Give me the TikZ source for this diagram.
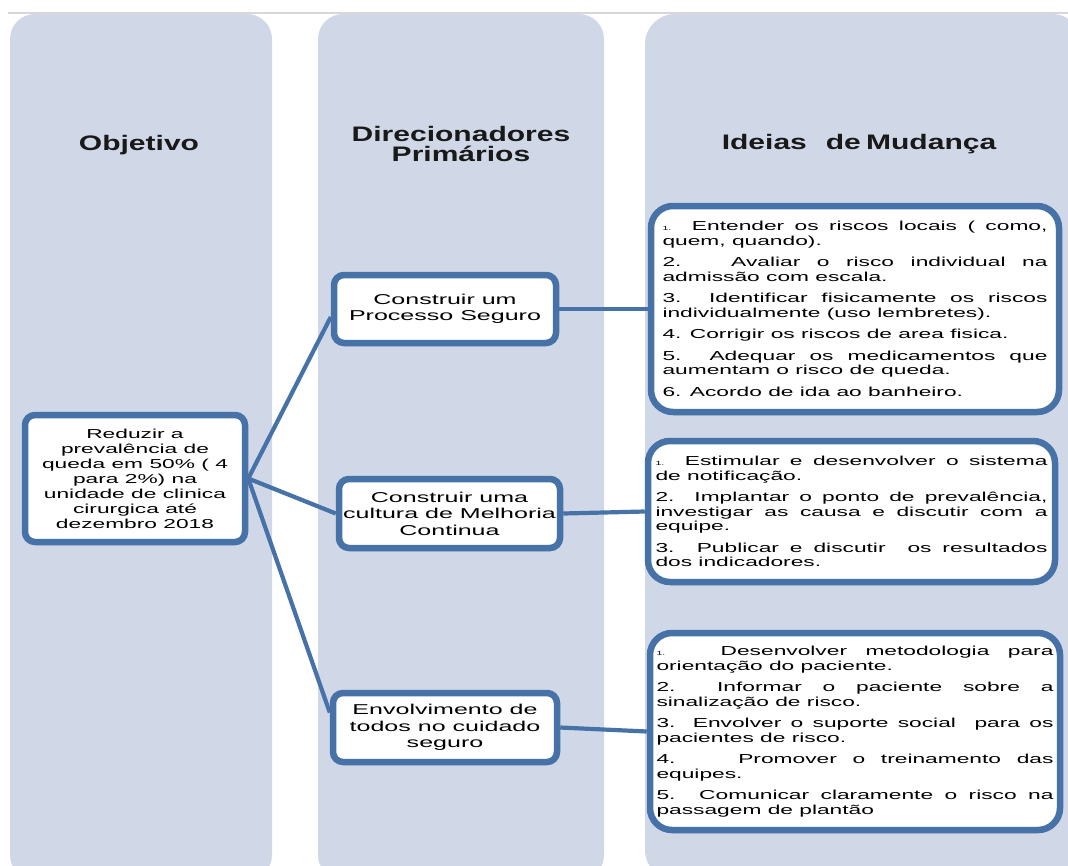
\documentclass[tikz,border=0pt]{standalone}
\usepackage{fontspec}
\usetikzlibrary{shadows,calc}
\newfontfamily\bodyfont{Liberation Sans}[FakeStretch=1.75]
\newfontfamily\headfont{Liberation Sans}[FakeStretch=1.43]
\definecolor{colfill}{RGB}{208,216,232}
\definecolor{boxblue}{RGB}{71,114,168}
\definecolor{topline}{RGB}{215,215,215}
\newcommand\pgap{\par\vspace{7pt}}
\newcommand\smnum[1]{{\fontsize{6}{6}\selectfont #1}}
\begin{document}
\begin{tikzpicture}[x=1pt,y=-1pt,
  col/.style={fill=colfill, rounded corners=25pt},
  box/.style={draw=boxblue, line width=6.5pt, fill=white, rounded corners=10pt, inner sep=0pt, text=black,
    drop shadow={shadow xshift=1pt, shadow yshift=-3pt, opacity=0.3, fill=black!60}},
  ideabox/.style={box, rounded corners=22pt, align=justify, font=\bodyfont\fontsize{13}{14.5}\selectfont},
  drvbox/.style={box, align=center, font=\bodyfont\fontsize{14.3}{16.5}\selectfont},
  goalbox/.style={box, align=center, font=\bodyfont\fontsize{13}{15}\selectfont},
  head/.style={inner sep=0pt, font=\headfont\bfseries\fontsize{21}{20.4}\selectfont, text=black!90},
  conn/.style={draw=boxblue, line width=4.2pt}]
\useasboundingbox (0,0) rectangle (1068,865);
\clip (0,0) rectangle (1068,865);
\fill[white] (0,0) rectangle (1068,865);
% columns
\fill[col] (10,14) rectangle (272,880);
\fill[col] (318,14) rectangle (604,880);
\fill[col, rounded corners=30pt] (645,14) rectangle (1082,880);
\draw[topline, line width=1.5pt] (8,13) -- (1068,13);
% headers
\node[head, anchor=base] (h1) at (139,150) {Objetivo};
\node[head, align=center] (h2) at (461,144) {Direcionadores\\Primários};
\node[head, anchor=base] (h3) at (859,149) {Ideias\hspace{0.9em}de\hspace{0.25em}Mudança};
% goal
\node[goalbox, minimum width=220pt, minimum height=127pt] (L) at (135,478.5)
  {Reduzir a\\prevalência de\\queda em 50\% ( 4\\para 2\%) na\\unidade de clinica\\cirurgica até\\dezembro 2018};
% drivers
\node[drvbox, minimum width=222pt, minimum height=68pt] (M1) at (445,309) {Construir um\\Processo Seguro};
\node[drvbox, minimum width=221pt, minimum height=69pt] (M2) at (449.5,513.5) {Construir uma\\cultura de Melhoria\\Continua};
\node[drvbox, minimum width=224pt, minimum height=69pt] (M3) at (445,727.5) {Envolvimento de\\todos no cuidado\\seguro};
% change ideas
\node[ideabox, minimum width=408pt, minimum height=206pt, text width=385pt] (R1) at (855,309) {%
\smnum{1.} Entender os riscos locais ( como,\linebreak quem, quando).\pgap
2.\ \ \ Avaliar o risco individual na\linebreak admissão com escala.\pgap
3.\ \ Identificar fisicamente os riscos\linebreak individualmente (uso lembretes).\pgap
4. Corrigir os riscos de area fisica.\pgap
5.\ \ Adequar os medicamentos que\linebreak aumentam o risco de queda.\pgap
6. Acordo de ida ao banheiro.};
\node[ideabox, minimum width=407pt, minimum height=141pt, text width=392pt] (R2) at (851.5,511.5) {%
\smnum{1.} Estimular e desenvolver o sistema\linebreak de notificação.\pgap
2. Implantar o ponto de prevalência,\linebreak investigar as causa e discutir com a\linebreak equipe.\pgap
3. Publicar e discutir\ \ os resultados\linebreak dos indicadores.};
\node[ideabox, minimum width=410pt, minimum height=197pt, text width=397pt] (R3) at (855,731.5) {%
\smnum{1.}\ \ \ Desenvolver metodologia para\linebreak orientação do paciente.\pgap
2.\ \ Informar o paciente sobre a\linebreak sinalização de risco.\pgap
3. Envolver o suporte social\ \ para os\linebreak pacientes de risco.\pgap
4.\ \ \ \ Promover o treinamento das\linebreak equipes.\pgap
5. Comunicar claramente o risco na\linebreak passagem de plantão};
% connectors
\draw[conn] (L.east) -- ([yshift=-8pt]M1.west);
\draw[conn] (L.east) -- (M2.west);
\draw[conn] (L.east) -- ([yshift=15pt]M3.west);
\draw[conn] (M1.east) -- (R1.west);
\draw[conn] (M2.east) -- (R2.west);
\draw[conn] (M3.east) -- (R3.west);
\end{tikzpicture}
\end{document}
